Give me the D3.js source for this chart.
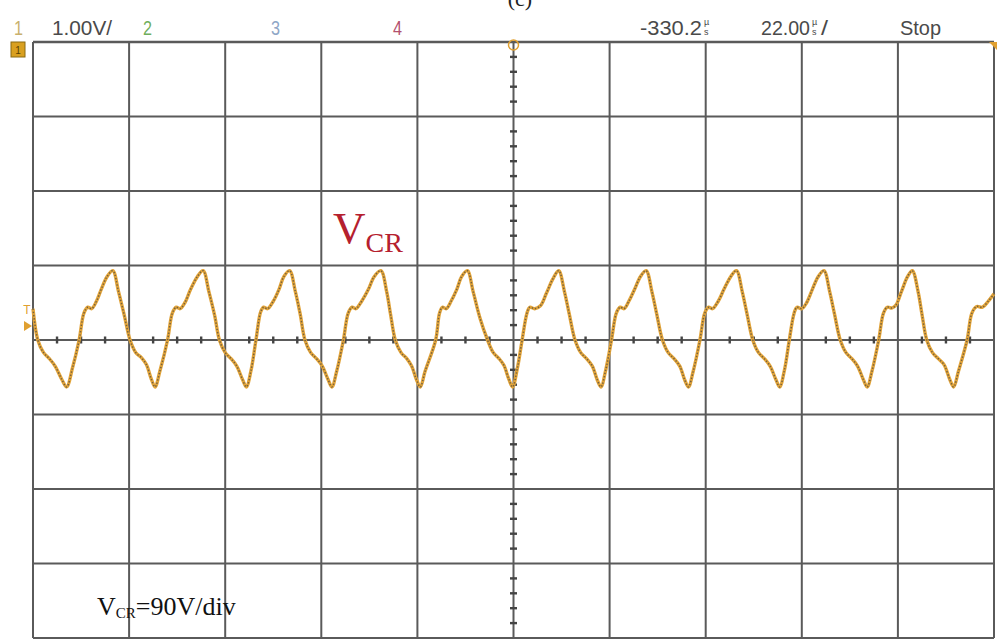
<!DOCTYPE html>
<html>
<head>
<meta charset="utf-8">
<script src="https://cdn.jsdelivr.net/npm/d3@7"></script>
<style>
body{margin:0;background:#fff;}
svg{display:block;}
</style>
</head>
<body>
<svg width="998" height="639"></svg>
<script>
// trace, time in divisions (-5..5), voltage in divisions (-4..4)
const traceT=[
 -5.00,-4.95,-4.89,-4.83,-4.77,-4.70,-4.65,-4.59,-4.52,-4.47,-4.43,-4.39,-4.34,-4.29,-4.23,
 -4.17,-4.11,-4.05,-3.99,-3.93,-3.87,-3.82,-3.77,-3.73,-3.68,-3.60,-3.55,-3.51,-3.47,-3.42,-3.36,-3.29,
 -3.23,-3.17,-3.11,-3.06,-3.00,-2.94,-2.88,-2.82,-2.78,-2.73,-2.68,-2.63,-2.60,-2.56,-2.50,-2.44,-2.39,
 -2.33,-2.27,-2.22,-2.17,-2.11,-2.05,-1.99,-1.93,-1.89,-1.84,-1.77,-1.72,-1.68,-1.64,-1.58,-1.51,-1.45,
 -1.38,-1.32,-1.28,-1.23,-1.17,-1.11,-1.06,-1.01,-0.97,-0.92,-0.81,-0.77,-0.74,-0.70,-0.65,-0.59,-0.54,
 -0.48,-0.42,-0.35,-0.27,-0.21,-0.15,-0.10,-0.05,-0.01,0.04,0.09,0.14,0.17,0.22,0.28,0.34,0.41,
 0.47,0.53,0.58,0.64,0.70,0.76,0.82,0.87,0.91,0.96,1.02,1.07,1.11,1.15,1.20,1.26,1.32,
 1.38,1.44,1.49,1.55,1.61,1.67,1.73,1.78,1.82,1.87,1.94,1.99,2.03,2.07,2.13,2.19,2.26,
 2.32,2.38,2.43,2.49,2.55,2.61,2.67,2.73,2.77,2.82,2.87,2.92,2.95,3.00,3.05,3.11,3.17,
 3.23,3.29,3.34,3.40,3.46,3.52,3.58,3.64,3.68,3.73,3.80,3.85,3.89,3.94,3.98,4.04,4.10,
 4.15,4.21,4.25,4.30,4.36,4.42,4.48,4.54,4.58,4.63,4.72,4.77,4.82,4.88,4.94,5.00
];
const traceV=[
 0.42,0,-0.17,-0.25,-0.35,-0.53,-0.63,-0.38,0,0.36,0.44,0.42,0.52,0.68,0.85,
 0.93,0.65,0.33,0,-0.17,-0.24,-0.33,-0.52,-0.63,-0.42,0,0.36,0.44,0.42,0.50,0.68,0.85,
 0.93,0.65,0.33,0,-0.17,-0.25,-0.35,-0.53,-0.63,-0.40,0,0.38,0.44,0.42,0.52,0.68,0.85,
 0.93,0.65,0.35,0,-0.17,-0.25,-0.35,-0.53,-0.63,-0.42,0,0.36,0.44,0.42,0.52,0.68,0.85,
 0.93,0.65,0.35,0,-0.17,-0.25,-0.35,-0.53,-0.63,-0.42,0,0.36,0.44,0.42,0.52,0.68,0.85,
 0.93,0.65,0.30,0,-0.17,-0.25,-0.34,-0.52,-0.63,-0.38,0,0.36,0.44,0.42,0.46,0.62,0.82,
 0.93,0.65,0.35,0,-0.17,-0.25,-0.35,-0.53,-0.63,-0.40,0,0.36,0.44,0.42,0.52,0.68,0.85,
 0.93,0.65,0.35,0,-0.17,-0.25,-0.35,-0.53,-0.63,-0.42,0,0.36,0.44,0.42,0.52,0.68,0.85,
 0.93,0.65,0.35,0,-0.17,-0.25,-0.35,-0.53,-0.63,-0.40,0,0.36,0.44,0.42,0.50,0.68,0.85,
 0.93,0.65,0.35,0,-0.17,-0.25,-0.35,-0.53,-0.63,-0.42,0,0.36,0.44,0.43,0.47,0.66,0.85,
 0.93,0.65,0.35,0,-0.17,-0.25,-0.33,-0.53,-0.63,-0.42,0,0.36,0.45,0.44,0.52,0.62
];
const xGrid=[-5,-4,-3,-2,-1,0,1,2,3,4,5];
const yGrid=[-4,-3,-2,-1,0,1,2,3,4];
const channels=["1","2","3","4"];
const channelColors=["#c9b06c","#6fae5c","#8ea6c6","#b3506e"];
const channelX=[14,143,271,393];
// header readouts: text, left x, squeezed width
const readouts=[["1.00V/",52,60],["-330.2",640,62],["22.00",761,49],["/",821,7],["Stop",900,41]];

const svg=d3.select("svg");
const x=d3.scaleLinear().domain([-5,5]).range([33,994]);
const y=d3.scaleLinear().domain([-4,4]).range([638,42]);
const sans="'Liberation Sans',Arial,sans-serif";

//GRID
const grid=svg.append("g");
grid.selectAll(".vline").data(xGrid).enter().append("line")
    .attr("x1",d=>x(d)).attr("x2",d=>x(d))
    .attr("y1",y(4)).attr("y2",y(-4))
    .attr("stroke","#5a5a5a").attr("stroke-width",2);
grid.selectAll(".hline").data(yGrid).enter().append("line")
    .attr("x1",x(-5)).attr("x2",x(5))
    .attr("y1",d=>y(d)).attr("y2",d=>y(d))
    .attr("stroke","#5a5a5a").attr("stroke-width",d=>d===4?2.6:2);

//CENTER TICKS
const xMinor=d3.range(-20,21).map(i=>i/4).filter(d=>d%1!==0);
const yMinor=d3.range(-20,21).map(i=>i/5).filter(d=>Math.abs(d%1)>0.01);
grid.selectAll(".xt").data(xMinor).enter().append("rect")
    .attr("x",d=>x(d)-1.2).attr("y",y(0)-3.5)
    .attr("width",2.4).attr("height",7).attr("fill","#444");
grid.selectAll(".yt").data(yMinor).enter().append("rect")
    .attr("x",x(0)-3.5).attr("y",d=>y(d)-1.2)
    .attr("width",7).attr("height",2.4).attr("fill","#444");

//TRACE
const pts=traceT.map((t,i)=>[t,traceV[i]]);
const line=d3.line().x(d=>x(d[0])).y(d=>y(d[1])).curve(d3.curveCatmullRom.alpha(0.5));
svg.append("path").attr("d",line(pts))
   .attr("fill","none").attr("stroke","#e2a43a").attr("stroke-width",3.4)
   .attr("stroke-linejoin","round");
svg.append("path").attr("d",line(pts))
   .attr("fill","none").attr("stroke","#74603e").attr("stroke-width",1.5)
   .attr("stroke-dasharray","1.4,1.8");

//HEADER
svg.append("g").selectAll("text").data(channels).enter().append("text")
   .attr("x",(d,i)=>channelX[i]).attr("y",35)
   .attr("font-family",sans).attr("font-size",21)
   .attr("textLength",9).attr("lengthAdjust","spacingAndGlyphs")
   .attr("fill",(d,i)=>channelColors[i])
   .text(d=>d);
svg.append("g").selectAll("text").data(readouts).enter().append("text")
   .attr("x",d=>d[1]).attr("y",35)
   .attr("font-family",sans).attr("font-size",21)
   .attr("textLength",d=>d[2]).attr("lengthAdjust","spacingAndGlyphs")
   .attr("fill","#4a4a4a").text(d=>d[0]);
const unit=px=>{
  svg.append("text").attr("x",px).attr("y",25).attr("font-family",sans)
     .attr("font-size",9).attr("fill","#4a4a4a").text("µ");
  svg.append("text").attr("x",px).attr("y",35).attr("font-family",sans)
     .attr("font-size",9).attr("fill","#4a4a4a").text("s");
};
unit(704);
unit(812);

svg.append("text").attr("x",520).attr("y",6)
   .attr("text-anchor","middle")
   .attr("font-family","'Liberation Serif',serif").attr("font-size",22)
   .attr("fill","#222").text("(c)");

//MARKERS
svg.append("rect").attr("x",11).attr("y",42).attr("width",14).attr("height",15)
   .attr("fill","#d9a020").attr("stroke","#8a6a10").attr("stroke-width",1);
svg.append("text").attr("x",18).attr("y",54).attr("text-anchor","middle")
   .attr("font-family",sans).attr("font-size",10)
   .attr("fill","#5a4000").text("1");
svg.append("circle").attr("cx",x(0)).attr("cy",45).attr("r",5)
   .attr("fill","none").attr("stroke","#e0a030").attr("stroke-width",1.5);
svg.append("path").attr("d","M989,42 L997,42 L997,50 Z").attr("fill","#e0a030");
svg.append("text").attr("x",27).attr("y",314).attr("text-anchor","middle")
   .attr("font-family",sans).attr("font-size",12)
   .attr("fill","#e0a030").text("T");
svg.append("path").attr("d","M24,321 L32,326 L24,331 Z").attr("fill","#e0a030");

//LABELS
const vcr=svg.append("text").attr("x",333).attr("y",243)
   .attr("font-family","'Liberation Serif',serif").attr("fill","#b5202e");
vcr.append("tspan").attr("font-size",45).text("V");
vcr.append("tspan").attr("font-size",28).attr("dy",9).text("CR");

const scale=svg.append("text").attr("x",97).attr("y",615)
   .attr("font-family","'Liberation Serif',serif").attr("fill","#111");
scale.append("tspan").attr("font-size",26).text("V");
scale.append("tspan").attr("font-size",15).attr("dy",3).text("CR");
scale.append("tspan").attr("font-size",26).attr("dy",-3).text("=90V/div");
</script>
</body>
</html>
